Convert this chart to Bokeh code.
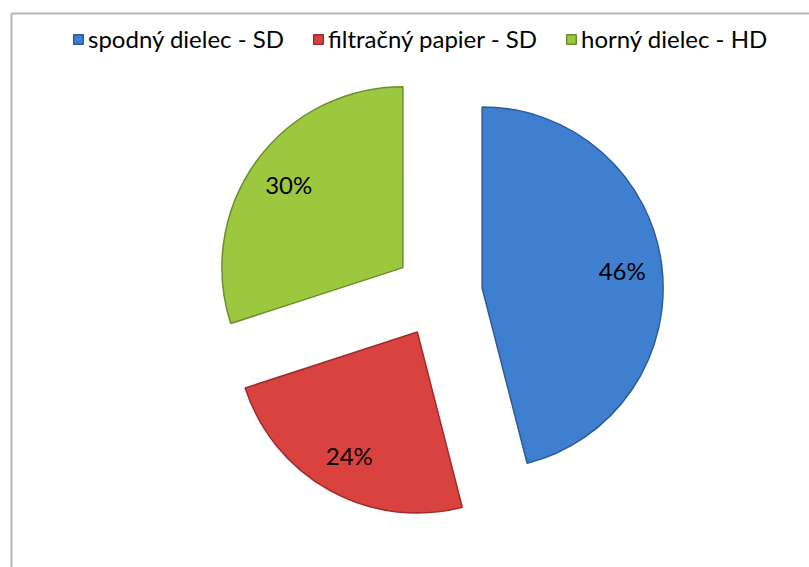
import math
from bokeh.plotting import figure
from bokeh.models import Range1d, Legend, LegendItem, ColumnDataSource
from bokeh.core.properties import value
from bokeh.embed import file_html
from bokeh.resources import INLINE

categories = ["spodný dielec - SD", "filtračný papier - SD", "horný dielec - HD"]
shares = [46, 24, 30]
labels = ["46%", "24%", "30%"]
colors = ["#3F7FD0", "#D9423F", "#9CC840"]
edge_colors = ["#2B5B9A", "#9E2C2A", "#6B8E2A"]

W, H = 809, 567
R_PX = 181.0          # pie radius in pixels
CX_PX, CY_PX = 438.0, 293.0   # pie centre (screen px)
EXPLODE = 0.243
LABEL_R = 0.78

p = figure(width=W, height=H, output_backend="svg", toolbar_location=None,
           x_range=Range1d(-CX_PX / R_PX, (W - CX_PX) / R_PX),
           y_range=Range1d(-(H - CY_PX) / R_PX, CY_PX / R_PX),
           min_border=0, border_fill_color="white", background_fill_color="white")
p.axis.visible = False
p.grid.visible = False
p.outline_line_color = None

# chart area border (left and top visible, rest beyond the window)
p.quad(left=[-(CX_PX - 11) / R_PX], right=[(W + 20 - CX_PX) / R_PX],
       top=[(CY_PX - 13) / R_PX], bottom=[-(H + 20 - CY_PX) / R_PX],
       fill_color=None, line_color="#B5B5B5", line_width=2)

total = float(sum(shares))
cum = 0.0
items = []
for cat, s, lab, col, ec in zip(categories, shares, labels, colors, edge_colors):
    t1 = cum / total * 2 * math.pi
    t2 = (cum + s) / total * 2 * math.pi
    cum += s
    tm = (t1 + t2) / 2
    ox, oy = EXPLODE * math.sin(tm), EXPLODE * math.cos(tm)
    src = ColumnDataSource(dict(x=[ox], y=[oy], start=[math.pi / 2 - t2], end=[math.pi / 2 - t1]))
    r = p.wedge(x="x", y="y", radius=1.0, start_angle="start", end_angle="end",
                fill_color=col, line_color=ec, line_width=1.5, source=src)
    lx = ox + LABEL_R * math.sin(tm)
    ly = oy + LABEL_R * math.cos(tm)
    p.text(x=[lx], y=[ly], text=[lab], text_align="center", text_baseline="middle",
           text_font=value("Lato"), text_font_size="24px", text_color="#000000")
    items.append(LegendItem(label=cat, renderers=[r]))

legend = Legend(items=items, orientation="horizontal", location=(72, 514),
                label_text_font="Lato", label_text_font_size="24px", label_text_color="#000000",
                glyph_width=12, glyph_height=12, label_standoff=4, spacing=28,
                border_line_color=None, background_fill_alpha=0, padding=0, margin=0)
p.add_layout(legend, "center")

open("out.html", "w").write(file_html(p, INLINE))
